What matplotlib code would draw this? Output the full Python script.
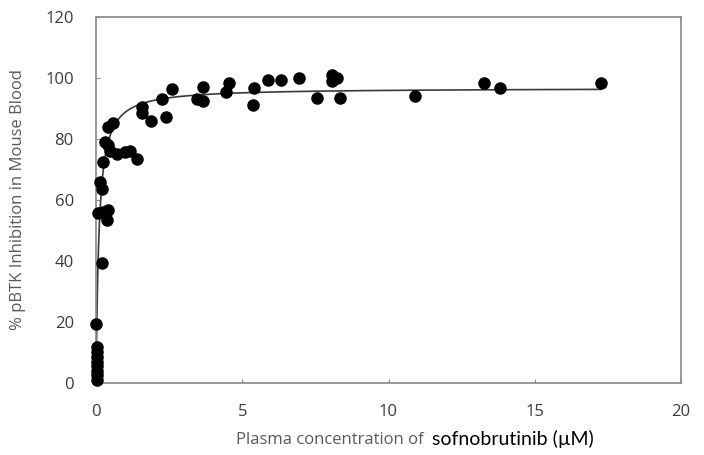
import numpy as np
import matplotlib
matplotlib.use("Agg")
import matplotlib.pyplot as plt

# plasma concentration (uM) and % pBTK inhibition
conc = [0.02, 0.03, 0.04, 0.03, 0.05, 0.04, 0.03, 0.05, 0.0,
        0.19, 0.08, 0.25, 0.41, 0.36, 0.14, 0.19, 0.25, 0.31, 0.42,
        0.48, 0.71, 0.99, 1.16, 1.41, 0.42, 0.59,
        1.56, 1.56, 1.87, 2.25, 2.39, 2.61,
        3.46, 3.65, 3.65, 4.44, 4.56, 5.36, 5.41,
        5.89, 6.31, 6.94, 7.57, 8.06, 8.08, 8.23, 8.34,
        10.9, 13.26, 13.81, 17.26]
inhib = [11.8, 10.2, 8.6, 7.0, 5.5, 4.0, 2.5, 1.0, 19.5,
         39.5, 55.8, 56.0, 56.6, 53.6, 66.0, 63.6, 72.5, 79.0, 78.0,
         76.2, 75.2, 75.8, 76.2, 73.5, 84.0, 85.3,
         90.4, 88.6, 86.0, 93.0, 87.3, 96.3,
         93.2, 97.0, 92.3, 95.3, 98.2, 91.1, 96.8,
         99.3, 99.4, 100.1, 93.6, 101.0, 99.0, 99.9, 93.3,
         94.2, 98.2, 96.6, 98.5]

# fitted Emax curve
emax = 96.7
ec50 = 0.1
hill = 1.05
x_fit = np.linspace(0, 17.26, 600)
y_fit = emax * x_fit**hill / (ec50**hill + x_fit**hill)

xticks = [0, 5, 10, 15, 20]
yticks = [0, 20, 40, 60, 80, 100, 120]

plt.rcParams['font.family'] = ['Open Sans', 'DejaVu Sans']
gray = '#5a5a5a'

fig = plt.figure(figsize=(7.04, 4.55), dpi=100)
ax = fig.add_axes([96/704, 1-383/455, 585/704, 366/455])

ax.plot(x_fit, y_fit, color='#3a3a3a', lw=1.2, zorder=2)
ax.plot(conc, inhib, 'o', color='black', ms=8, zorder=3, clip_on=False)

ax.set_xlim(0, 20)
ax.set_ylim(0, 120)
ax.set_xticks(xticks)
ax.set_yticks(yticks)
ax.tick_params(direction='in', length=3, width=0.8, color='#888888',
               labelsize=12, labelcolor='#3c3c3c', pad=15)
ax.tick_params(axis='y', pad=16)
for s in ax.spines.values():
    s.set_color('#888888')
    s.set_linewidth(1.2)

ax.set_ylabel('% pBTK Inhibition in Mouse Blood', fontsize=12, color=gray,
              labelpad=14)

fig.text(428/704, 1-440/455, 'Plasma concentration of ', fontsize=12,
         color=gray, ha='right', va='center')
fig.text(432/704, 1-439/455, 'sofnobrutinib (\u00b5M)', fontsize=14,
         color='black', ha='left', va='center', family=['Lato', 'DejaVu Sans'])

fig.savefig('out.png', dpi=100)
